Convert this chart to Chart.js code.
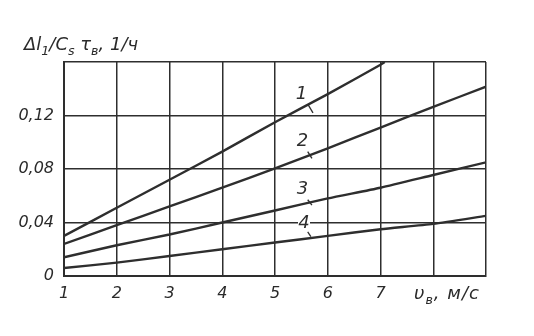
<!DOCTYPE html>
<html><head><meta charset="utf-8">
<script src="https://cdn.jsdelivr.net/npm/chart.js@4"></script>
<style>
html,body{margin:0;padding:0;background:#fff;}
#wrap{position:relative;width:534px;height:336px;}
.t{position:absolute;font-family:"DejaVu Sans",sans-serif;font-style:italic;color:#2a2a2a;white-space:nowrap;}
sub{font-size:70%;}
</style></head><body>
<div id="wrap">
<canvas id="c" width="534" height="336"></canvas>
<div class="t" style="left:24px;top:33px;font-size:18px;">Δl<sub>1</sub>/C<sub>s</sub> τ<sub>в</sub>, 1/ч</div>
<div class="t" style="left:414px;top:282px;font-size:18px;letter-spacing:1px;">υ<sub>в</sub>, м/с</div>
</div>
<script>
const xValues = [1, 2, 3, 4, 5, 6, 7, 8, 9];
const curve1 = [0.030, 0.051, 0.072, 0.093, 0.115, 0.136, 0.158];
const curve1End = {x: 7.08, y: 0.16};
const curve2 = [0.024, 0.038, 0.052, 0.066, 0.0805, 0.0955, 0.111, 0.1265, 0.1415];
const curve3 = [0.014, 0.023, 0.031, 0.040, 0.049, 0.058, 0.066, 0.0755, 0.085];
const curve4 = [0.006, 0.010, 0.015, 0.020, 0.025, 0.030, 0.035, 0.039, 0.045];
const curveNames = ['1', '2', '3', '4'];
const yTicks = [0, 0.04, 0.08, 0.12, 0.16];

function pts(arr){ return arr.map((v,i)=>({x:xValues[i], y:v})); }
const ink = '#2e2e2e';
const ds = (name, data) => ({label:name, data, borderColor:ink, borderWidth:2.4, pointRadius:0, tension:0.2, fill:false});

const labelPos = [
  {x:5.5, y:0.136, lx1:5.63, ly1:0.128, lx2:5.72, ly2:0.122},
  {x:5.52, y:0.101, lx1:5.62, ly1:0.093, lx2:5.7, ly2:0.088},
  {x:5.52, y:0.065, lx1:5.62, ly1:0.057, lx2:5.7, ly2:0.053},
  {x:5.55, y:0.0395, lx1:5.62, ly1:0.033, lx2:5.68, ly2:0.0295}
];

const labelsPlugin = {
  id:'curveLabels',
  afterDatasetsDraw(chart){
    const {ctx, scales:{x, y}} = chart;
    ctx.save();
    ctx.fillStyle = ink; ctx.strokeStyle = ink; ctx.lineWidth = 1.3;
    ctx.font = 'italic 18px "DejaVu Sans"';
    ctx.textAlign = 'center'; ctx.textBaseline = 'middle';
    labelPos.forEach((p,i)=>{
      const px = x.getPixelForValue(p.x), py = y.getPixelForValue(p.y);
      ctx.fillStyle = '#fff';
      ctx.fillRect(px-6, py-9, 12, 18);
      ctx.fillStyle = ink;
      ctx.fillText(curveNames[i], px, py);
      ctx.beginPath();
      ctx.moveTo(x.getPixelForValue(p.lx1), y.getPixelForValue(p.ly1));
      ctx.lineTo(x.getPixelForValue(p.lx2), y.getPixelForValue(p.ly2));
      ctx.stroke();
    });
    ctx.restore();
  }
};

new Chart(document.getElementById('c'), {
  type:'line',
  data:{datasets:[
    ds('1', pts(curve1).concat([curve1End])),
    ds('2', pts(curve2)),
    ds('3', pts(curve3)),
    ds('4', pts(curve4))
  ]},
  options:{
    responsive:false, animation:false,
    layout:{padding:{left:0, top:62, right:48, bottom:0}},
    plugins:{legend:{display:false}, tooltip:{enabled:false}},
    scales:{
      x:{type:'linear', min:1, max:9,
        ticks:{stepSize:1, padding:8, color:'#2a2a2a', font:{family:'DejaVu Sans', style:'italic', size:16},
          callback:v=> (v<=7 ? String(v) : '')},
        grid:{color:ink, lineWidth:1.5, drawTicks:false},
        border:{color:ink, width:2},
        afterFit(s){ s.height = 60; }
      },
      y:{min:0, max:0.16,
        afterBuildTicks(s){ s.ticks = yTicks.map(v=>({value:v})); },
        ticks:{padding:10, color:'#2a2a2a', font:{family:'DejaVu Sans', style:'italic', size:16},
          callback:v=> v===0 ? '0' : (v>=0.16 ? '' : v.toFixed(2).replace('.', ','))},
        grid:{color:ink, lineWidth:1.5, drawTicks:false},
        border:{color:ink, width:2},
        afterFit(s){ s.width = 64; }
      }
    }
  },
  plugins:[labelsPlugin]
});
</script>
</body></html>
